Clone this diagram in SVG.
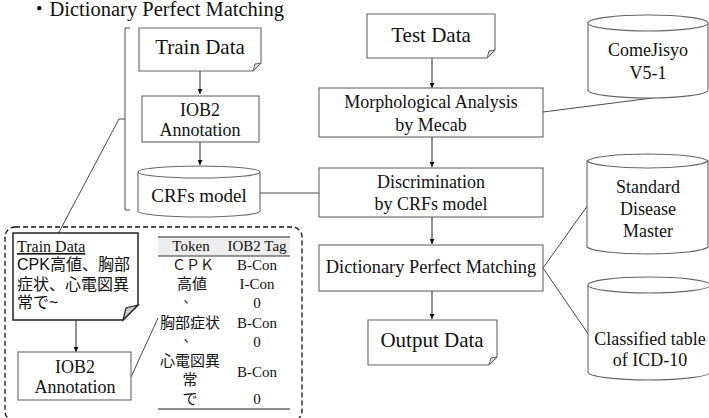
<svg xmlns="http://www.w3.org/2000/svg" width="709" height="418" viewBox="0 0 709 418">
<defs>
<style>
.box{fill:#fff;stroke:#666;stroke-width:1.1}
.fold{fill:#ddd;stroke:#666;stroke-width:1}
.ln{fill:none;stroke:#333;stroke-width:0.9}
.ar{fill:none;stroke:#222;stroke-width:1;marker-end:url(#ah)}
.t{font-family:"Liberation Serif","Times New Roman",serif;fill:#111;text-anchor:middle}
.j{font-family:"Liberation Sans","Noto Sans CJK JP",sans-serif;fill:#111}
.jc{font-family:"Noto Sans CJK JP","Liberation Sans",sans-serif;fill:#111;text-anchor:middle}
</style>
<marker id="ah" viewBox="0 0 6 6" refX="6" refY="3" markerWidth="5" markerHeight="5" orient="auto" markerUnits="userSpaceOnUse">
<path d="M0,0 L6,3 L0,6 z" fill="#111"/>
</marker>
</defs>
<rect width="709" height="418" fill="#fff"/>

<text x="29" y="16" style="font-family:'Liberation Serif','Noto Sans CJK JP',serif;font-size:20.5px;fill:#111">・Dictionary Perfect Matching</text>

<g id="connectors">
<path class="ar" d="M200,71 V94"/>
<path class="ar" d="M200,142 V165"/>
<path class="ar" d="M432,58 V88"/>
<path class="ar" d="M432,137 V167"/>
<path class="ar" d="M432,217 V244"/>
<path class="ar" d="M432,291 V319"/>
<path class="ln" d="M260,193 H319"/>
<path class="ln" d="M543,112 L660,97"/>
<path class="ln" d="M543,268 L588,205"/>
<path class="ln" d="M543,268 L591,338"/>
<path class="ln" d="M130,28 H125 V210 H130 M125,119 H119 L58,234"/>
<path class="ar" d="M76,320 V352"/>
<path class="ln" d="M131,377 L158,318"/>
</g>

<g id="train-data">
<path class="box" d="M139,28 H261 V63 L253,71 H139 Z"/>
<path class="fold" d="M253,71 L255,64 L261,63 Z"/>
<text class="t" x="200" y="54" font-size="21">Train Data</text>
</g>

<g id="iob2-top">
<rect class="box" x="142" y="96" width="117" height="46"/>
<text class="t" x="200" y="116" font-size="18">IOB2</text>
<text class="t" x="200" y="136" font-size="18">Annotation</text>
</g>

<g id="crfs-model">
<path class="box" d="M138,172 A61,6 0 0 1 260,172 V211 A61,6 0 0 1 138,211 Z"/>
<path class="box" d="M138,172 A61,6 0 0 0 260,172" fill="none"/>
<text class="t" x="199" y="202" font-size="19">CRFs model</text>
</g>

<g id="test-data">
<path class="box" d="M367,14 H495 V50 L487,58 H367 Z"/>
<path class="fold" d="M487,58 L489,51 L495,50 Z"/>
<text class="t" x="431" y="42" font-size="21">Test Data</text>
</g>

<g id="morph">
<rect class="box" x="319" y="88" width="224" height="49"/>
<text class="t" x="431" y="108" font-size="18">Morphological Analysis</text>
<text class="t" x="431" y="131" font-size="18">by Mecab</text>
</g>

<g id="comejisyo">
<path class="box" d="M588,23 A60,8 0 0 1 708,23 V90 A60,8 0 0 1 588,90 Z"/>
<path class="box" d="M588,23 A60,8 0 0 0 708,23" fill="none"/>
<text class="t" x="648" y="56" font-size="18">ComeJisyo</text>
<text class="t" x="648" y="79" font-size="18">V5-1</text>
</g>

<g id="discrimination">
<rect class="box" x="319" y="168" width="224" height="49"/>
<text class="t" x="431" y="188" font-size="18">Discrimination</text>
<text class="t" x="431" y="210" font-size="18">by CRFs model</text>
</g>

<g id="dpm">
<rect class="box" x="319" y="245" width="224" height="46"/>
<text class="t" x="431" y="273" font-size="18.4">Dictionary Perfect Matching</text>
</g>

<g id="standard-disease">
<path class="box" d="M587,161 A61,8 0 0 1 708,161 V247 A61,8 0 0 1 587,247 Z"/>
<path class="box" d="M587,161 A61,8 0 0 0 708,161" fill="none"/>
<text class="t" x="648" y="193" font-size="18">Standard</text>
<text class="t" x="648" y="215" font-size="18">Disease</text>
<text class="t" x="648" y="237" font-size="18">Master</text>
</g>

<g id="output-data">
<path class="box" d="M368,320 H497 V357 L489,365 H368 Z"/>
<path class="fold" d="M489,365 L491,358 L497,357 Z"/>
<text class="t" x="432" y="347" font-size="21">Output Data</text>
</g>

<g id="classified">
<path class="box" d="M588,285 A61,8 0 0 1 710,285 V372 A61,8 0 0 1 588,372 Z"/>
<path class="box" d="M588,285 A61,8 0 0 0 710,285" fill="none"/>
<text class="t" x="650" y="345" font-size="18">Classified table</text>
<text class="t" x="650" y="366" font-size="18">of ICD-10</text>
</g>

<g id="detail">
<rect x="5" y="227" width="297" height="194" rx="10" ry="10" fill="none" stroke="#111" stroke-width="1.3" stroke-dasharray="5,3"/>
<g id="train-data-detail">
<path d="M13,233 H138 V305 L123,320 H13 Z" fill="#fff" stroke="#222" stroke-width="1.5"/>
<path d="M123,320 L126,308 L138,305 Z" fill="#ccc" stroke="#222" stroke-width="1.2"/>
<text x="17" y="252" style="font-family:'Liberation Serif',serif;font-size:16px;fill:#111;text-decoration:underline">Train Data</text>
<text class="j" x="17" y="270" font-size="16">CPK高値、胸部</text>
<text class="j" x="17" y="290" font-size="16">症状、心電図異</text>
<text class="j" x="17" y="308" font-size="16">常で~</text>
</g>
<g id="iob2-detail">
<rect class="box" x="18" y="352" width="113" height="48"/>
<text class="t" x="75" y="373" font-size="18">IOB2</text>
<text class="t" x="75" y="393" font-size="18">Annotation</text>
</g>
<g id="table">
<rect x="158" y="237" width="132" height="19" fill="#eee"/>
<path d="M158,237 H290" stroke="#222" stroke-width="1"/>
<path d="M158,256 H290" stroke="#333" stroke-width="1.2"/>
<path d="M158,409 H290" stroke="#222" stroke-width="1"/>
<text class="t" x="191" y="251" font-size="15">Token</text>
<text class="t" x="257" y="251" font-size="15">IOB2 Tag</text>
<text class="jc" x="193" y="270" font-size="14">ＣＰＫ</text>
<text class="t" x="257" y="270" font-size="15">B-Con</text>
<text class="jc" x="192" y="289" font-size="15">高値</text>
<text class="t" x="257" y="289" font-size="15">I-Con</text>
<text class="jc" x="190" y="302" font-size="13">、</text>
<text class="t" x="257" y="308" font-size="15">0</text>
<text class="jc" x="190" y="328" font-size="15">胸部症状</text>
<text class="t" x="257" y="328" font-size="15">B-Con</text>
<text class="jc" x="190" y="341" font-size="13">、</text>
<text class="t" x="257" y="347" font-size="15">0</text>
<text class="jc" x="190" y="366" font-size="15">心電図異</text>
<text class="jc" x="190" y="385" font-size="15">常</text>
<text class="t" x="257" y="377" font-size="15">B-Con</text>
<text class="jc" x="190" y="404" font-size="15">で</text>
<text class="t" x="257" y="404" font-size="15">0</text>
</g>
</g>
</svg>
